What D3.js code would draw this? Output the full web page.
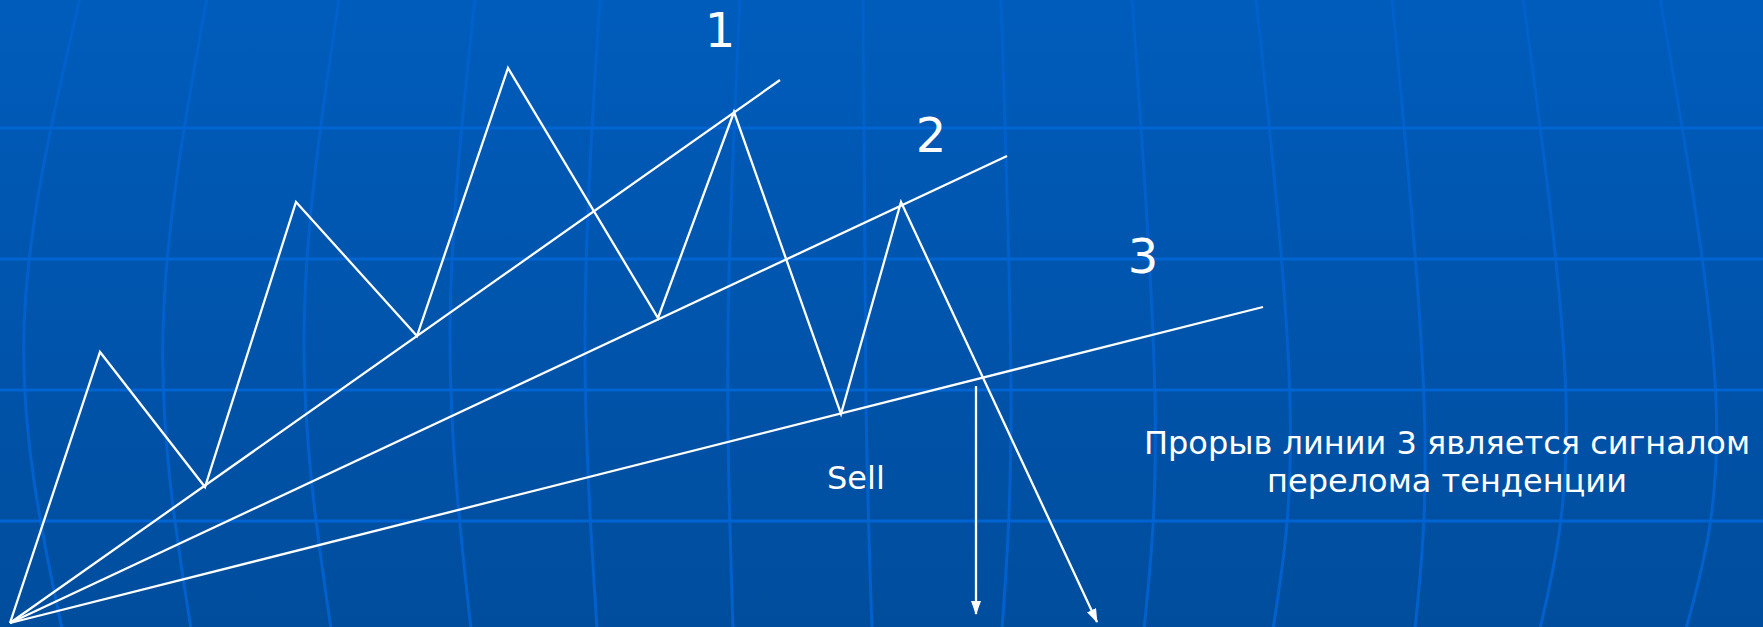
<!DOCTYPE html>
<html>
<head>
<meta charset="utf-8">
<script src="https://cdn.jsdelivr.net/npm/d3@7"></script>
<style>
  html, body { margin: 0; padding: 0; overflow: hidden; }
  svg { display: block; }
</style>
</head>
<body>
<script>
var width = 1763,
    height = 627;

// price swings (time, price)
var swingTime  = [10, 100, 205, 296, 417, 508, 658, 734, 841, 901, 1097];
var swingPrice = [4, 275, 140, 425, 291, 559, 309, 515, 213, 425, 5];

// fan trend lines, all from the first low
var trendNames = ["1", "2", "3"];
var trendEndTime  = [780, 1007, 1263];
var trendEndPrice = [547, 471, 320];
var labelTime  = [720, 931, 1143];
var labelPrice = [580, 475, 354];

// sell signal
var sellTime = 976;
var sellFrom = 241, sellTo = 13;
var sellLabel = "Sell";
var noteLines = ["Прорыв линии 3 является сигналом", "перелома тенденции"];

// background grid
var gridRows = [128, 259, 390, 521];
var meridianTop = [80, 207, 339, 475, 600, 740, 863, 1001, 1132, 1256, 1392, 1523, 1660];
var meridianMid = [24, 163, 304, 450, 585, 728, 866, 1011, 1155, 1290, 1424, 1566, 1716];
var meridianBot = [62, 191, 331, 471, 597, 733, 872, 1002, 1144, 1273, 1415, 1540, 1686];

var x = d3.scaleLinear().domain([0, width]).range([0, width]);
var y = d3.scaleLinear().domain([0, height]).range([height, 0]);

var svg = d3.select("body").append("svg")
    .attr("width", width)
    .attr("height", height);

var defs = svg.append("defs");

var grad = defs.append("linearGradient")
    .attr("id", "bg")
    .attr("x1", 0).attr("y1", 0).attr("x2", 0).attr("y2", 1);
grad.append("stop").attr("offset", "0%").attr("stop-color", "#005cbb");
grad.append("stop").attr("offset", "100%").attr("stop-color", "#004d9d");

defs.append("marker")
    .attr("id", "head")
    .attr("markerUnits", "userSpaceOnUse")
    .attr("viewBox", "0 0 14 10")
    .attr("markerWidth", 14)
    .attr("markerHeight", 10)
    .attr("refX", 13)
    .attr("refY", 5)
    .attr("orient", "auto")
  .append("path")
    .attr("d", "M0,0 L14,5 L0,10 z")
    .attr("fill", "#fff");

svg.append("rect")
    .attr("width", width)
    .attr("height", height)
    .attr("fill", "url(#bg)");

////////// background grid //////////

var grid = svg.append("g").attr("class", "grid");

var meridian = d3.line().curve(d3.curveNatural);

grid.selectAll("path.meridian")
    .data(meridianTop)
    .enter().append("path")
    .attr("class", "meridian")
    .attr("d", function(d, i) {
      var midY = d < 860 ? 330 : 400;
      return meridian([[d, -2], [meridianMid[i], midY], [meridianBot[i], height + 2]]);
    })
    .attr("fill", "none")
    .attr("stroke", "#0061cc")
    .attr("stroke-width", 3);

grid.selectAll("line.row")
    .data(gridRows)
    .enter().append("line")
    .attr("class", "row")
    .attr("x1", 0)
    .attr("x2", width)
    .attr("y1", function(d) { return d; })
    .attr("y2", function(d) { return d; })
    .attr("stroke", "#0064d2")
    .attr("stroke-width", 3);

////////// chart //////////

var chart = svg.append("g")
    .attr("fill", "none")
    .attr("stroke", "#fff")
    .attr("stroke-width", 2.3);

chart.selectAll("line.trend")
    .data(trendNames)
    .enter().append("line")
    .attr("class", "trend")
    .attr("x1", x(swingTime[0]))
    .attr("y1", y(swingPrice[0]))
    .attr("x2", function(d, i) { return x(trendEndTime[i]); })
    .attr("y2", function(d, i) { return y(trendEndPrice[i]); });

var price = d3.line()
    .x(function(d) { return x(d[0]); })
    .y(function(d) { return y(d[1]); });

chart.append("path")
    .attr("d", price(d3.zip(swingTime, swingPrice)))
    .attr("stroke-linejoin", "miter")
    .attr("marker-end", "url(#head)");

chart.append("line")
    .attr("x1", x(sellTime))
    .attr("x2", x(sellTime))
    .attr("y1", y(sellFrom))
    .attr("y2", y(sellTo))
    .attr("marker-end", "url(#head)");

////////// labels //////////

svg.selectAll("text.trend-label")
    .data(trendNames)
    .enter().append("text")
    .attr("class", "trend-label")
    .attr("x", function(d, i) { return x(labelTime[i]); })
    .attr("y", function(d, i) { return y(labelPrice[i]); })
    .attr("text-anchor", "middle")
    .attr("fill", "#fff")
    .style("font-family", "'DejaVu Sans', sans-serif")
    .style("font-size", "48px")
    .text(function(d) { return d; });

svg.append("text")
    .attr("x", x(827))
    .attr("y", y(138))
    .attr("fill", "#fff")
    .style("font-family", "'DejaVu Sans', sans-serif")
    .style("font-size", "32px")
    .text(sellLabel);

svg.append("text")
    .attr("fill", "#fff")
    .attr("text-anchor", "middle")
    .style("font-family", "'DejaVu Sans', sans-serif")
    .style("font-size", "32px")
  .selectAll("tspan")
    .data(noteLines)
    .enter().append("tspan")
    .attr("x", x(1447))
    .attr("y", function(d, i) { return y(173) + i * 38; })
    .text(function(d) { return d; });
</script>
</body>
</html>
